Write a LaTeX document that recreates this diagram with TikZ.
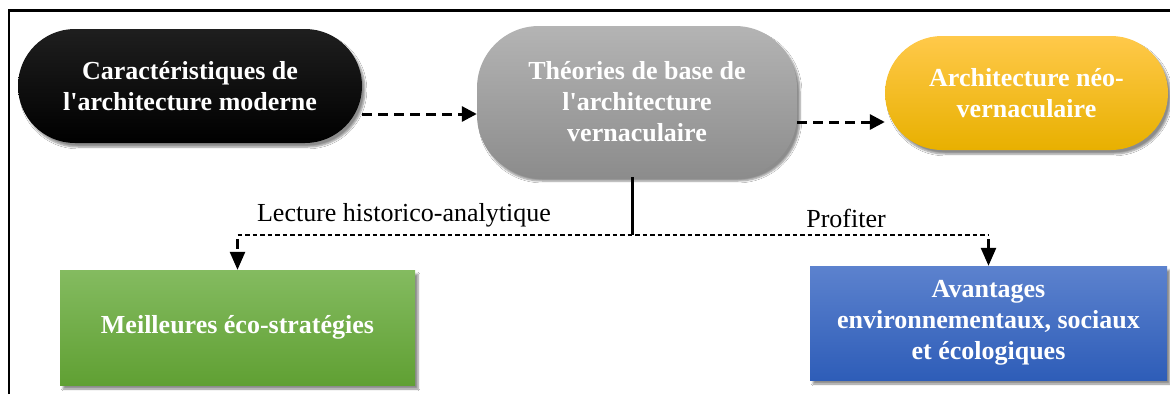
\documentclass[tikz,border=0pt]{standalone}
\usepackage{fontspec}
\setmainfont{Liberation Serif}
\usetikzlibrary{arrows.meta,shadows.blur,calc}

\definecolor{pillblack}{HTML}{000000}
\definecolor{pillgrayT}{HTML}{B4B4B4}
\definecolor{pillgrayB}{HTML}{8C8C8C}
\definecolor{pillyelT}{HTML}{FFC94A}
\definecolor{pillyelB}{HTML}{E8B000}
\definecolor{boxgreenT}{HTML}{84BB60}
\definecolor{boxgreenB}{HTML}{60A033}
\definecolor{boxblueT}{HTML}{5C82CE}
\definecolor{boxblueB}{HTML}{2E5DB8}

\newcommand{\apos}{\textquotesingle}

\tikzset{
  bigtext/.style={font=\bfseries\fontsize{26}{31}\selectfont, text=white, align=center, inner sep=0pt},
  labeltext/.style={font=\fontsize{26}{30}\selectfont, inner sep=0pt},
  softshadow/.style={blur shadow={shadow blur steps=6, shadow xshift=3pt, shadow yshift=-4pt, shadow opacity=45}},
  pill/.style={bigtext, softshadow, rounded corners=#1},
  flatbox/.style={bigtext, softshadow},
  bigdash/.style={line width=3pt, dash pattern=on 10pt off 6pt, -{Triangle[length=15pt,width=15pt]}},
  thindash/.style={line width=1.4pt, dash pattern=on 4.5pt off 3pt},
  dropdash/.style={line width=2.6pt, dash pattern=on 10pt off 4pt, -{Triangle[length=18pt,width=15pt]}},
}

\begin{document}
\begin{tikzpicture}[x=1pt,y=-1pt]
  \useasboundingbox (0,0) rectangle (1170,394);
  \fill[white] (0,0) rectangle (1170,394);

  % frame
  \draw[line width=2.2pt] (9,394) -- (9,10.5) -- (1170,10.5);

  % top row
  \node[pill=57pt, minimum width=344pt, minimum height=114pt,
        top color=black!88, bottom color=pillblack] (modern) at (190,86)
        {Caractéristiques de\\l\apos architecture moderne};
  \node[pill=62pt, minimum width=320pt, minimum height=151pt,
        top color=pillgrayT, bottom color=pillgrayB] (theory) at (637,101.5)
        {Théories de base de\\l\apos architecture\\vernaculaire};
  \node[pill=57pt, minimum width=283pt, minimum height=114pt,
        top color=pillyelT, bottom color=pillyelB, middle color=pillyelT!50!pillyelB] (neo) at (1026.5,93)
        {Architecture néo-\\vernaculaire};

  % bottom row
  \node[flatbox, minimum width=355pt, minimum height=115pt,
        top color=boxgreenT, bottom color=boxgreenB] (eco) at (237.5,327.5)
        {Meilleures éco-stratégies};
  \node[flatbox, minimum width=357pt, minimum height=114pt,
        top color=boxblueT, bottom color=boxblueB] (gain) at (988.5,323)
        {Avantages\\environnementaux, sociaux\\et écologiques};

  % horizontal flow
  \draw[bigdash] ([yshift=-28pt]modern.east) -- ([yshift=-12.5pt]theory.west);
  \draw[bigdash] ([yshift=-20.5pt]theory.east) -- ([yshift=-29pt]neo.west);

  % branching
  \coordinate (split) at (632,235);
  \coordinate (lcorner) at (eco.north |- split);
  \coordinate (rcorner) at (gain.north |- split);
  \draw[line width=3pt] (theory.south -| split) -- (split);
  \draw[thindash] (lcorner) -- (rcorner);
  \draw[dropdash] ([yshift=-4pt]lcorner) -- (eco.north);
  \draw[dropdash] ([yshift=-4pt]rcorner) -- (gain.north);

  % branch labels
  \node[labeltext] (lread) at (404,215) {Lecture historico-analytique};
  \node[labeltext] (lgain) at (846,218) {Profiter};
\end{tikzpicture}
\end{document}
